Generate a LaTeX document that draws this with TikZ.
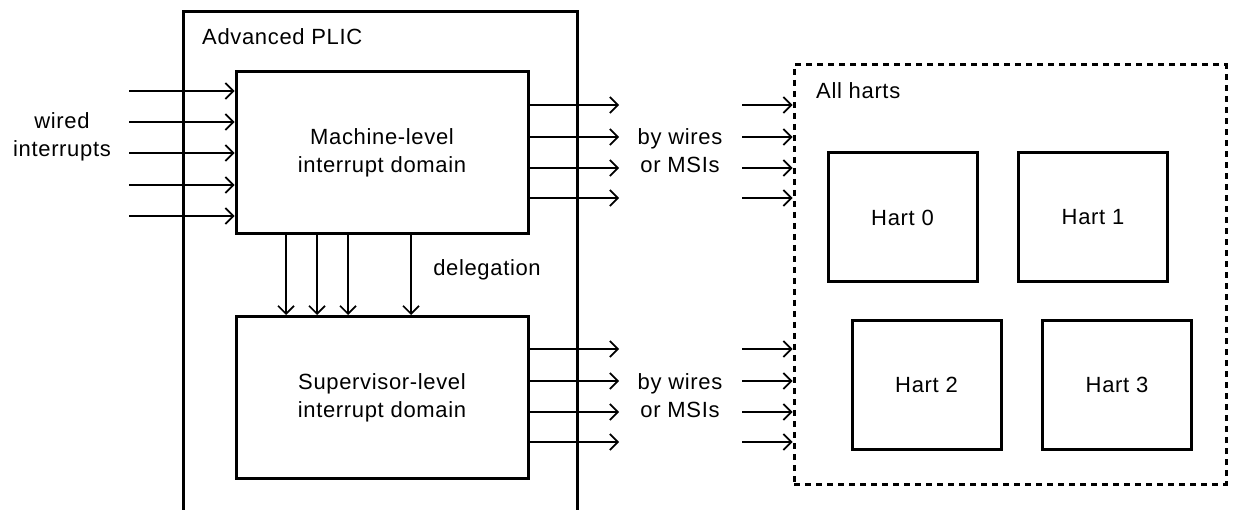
\documentclass[tikz,border=0pt]{standalone}
\usepackage{fontspec}
\setmainfont{Liberation Sans}[LetterSpace=3]
\usetikzlibrary{arrows.meta}
\begin{document}
\begin{tikzpicture}[x=1pt,y=-1pt]
\tikzstyle{every node}=[inner sep=0pt, align=center, font=\fontsize{22}{28}\selectfont]
\tikzstyle{domainbox}=[draw, line width=3pt, minimum width=292pt, minimum height=162pt]
\tikzstyle{hartbox}=[draw, line width=3pt, minimum width=149pt, minimum height=129pt]
\tikzstyle{wire}=[line width=1.7pt, -{Straight Barb[length=8pt,width=16pt]}]
\useasboundingbox (0,0) rectangle (1233,510);
% the APLIC, open at the bottom
\draw[line width=3pt] (183,520) -- (183,12) -- (577,12) -- (577,520);
\draw (202,37) node (aplic) [anchor=west] {Advanced PLIC};
\draw (382,153) node (mach) [domainbox] {Machine-level\\interrupt domain};
\draw (382,397.5) node (sup) [domainbox] {Supervisor-level\\interrupt domain};
\draw (62,137) node (wired) {wired\\interrupts};
\draw (680,151) node (mwires) {by wires\\or MSIs};
\draw (680,396) node (swires) {by wires\\or MSIs};
\draw (487,270) node (deleg) {delegation};
% the harts
\draw (1010,274.5) node (harts) [draw, line width=3pt, dash pattern=on 6pt off 5pt, minimum width=432pt, minimum height=419pt] {};
\draw (816,91) node (allharts) [anchor=west] {All harts};
\draw (902.5,217.5) node (h0) [hartbox] {Hart 0};
\draw (1093,217.5) node (h1) [hartbox] {Hart 1};
\draw (926.5,384.5) node (h2) [hartbox] {Hart 2};
\draw (1117,384.5) node (h3) [hartbox] {Hart 3};
% free ends
\coordinate (i1) at (129,91);
\coordinate (i2) at (129,122);
\coordinate (i3) at (129,153);
\coordinate (i4) at (129,185);
\coordinate (i5) at (129,216);
\coordinate (mo1) at (619,105);
\coordinate (mo2) at (619,137);
\coordinate (mo3) at (619,168);
\coordinate (mo4) at (619,198);
\coordinate (so1) at (619,349);
\coordinate (so2) at (619,381);
\coordinate (so3) at (619,412);
\coordinate (so4) at (619,442);
\coordinate (mh1) at (742,105);
\coordinate (mh2) at (742,137);
\coordinate (mh3) at (742,168);
\coordinate (mh4) at (742,198);
\coordinate (sh1) at (742,349);
\coordinate (sh2) at (742,381);
\coordinate (sh3) at (742,412);
\coordinate (sh4) at (742,442);
\draw[wire] (i1) -- (i1 -| mach.west);
\draw[wire] (i2) -- (i2 -| mach.west);
\draw[wire] (i3) -- (i3 -| mach.west);
\draw[wire] (i4) -- (i4 -| mach.west);
\draw[wire] (i5) -- (i5 -| mach.west);
\draw[wire] (mo1 -| mach.east) -- (mo1);
\draw[wire] (mo2 -| mach.east) -- (mo2);
\draw[wire] (mo3 -| mach.east) -- (mo3);
\draw[wire] (mo4 -| mach.east) -- (mo4);
\draw[wire] (so1 -| sup.east) -- (so1);
\draw[wire] (so2 -| sup.east) -- (so2);
\draw[wire] (so3 -| sup.east) -- (so3);
\draw[wire] (so4 -| sup.east) -- (so4);
\draw[wire] (mh1) -- (mh1 -| harts.west);
\draw[wire] (mh2) -- (mh2 -| harts.west);
\draw[wire] (mh3) -- (mh3 -| harts.west);
\draw[wire] (mh4) -- (mh4 -| harts.west);
\draw[wire] (sh1) -- (sh1 -| harts.west);
\draw[wire] (sh2) -- (sh2 -| harts.west);
\draw[wire] (sh3) -- (sh3 -| harts.west);
\draw[wire] (sh4) -- (sh4 -| harts.west);
% delegation
\draw[wire] (mach.south -| 286,0) -- (sup.north -| 286,0);
\draw[wire] (mach.south -| 317,0) -- (sup.north -| 317,0);
\draw[wire] (mach.south -| 348,0) -- (sup.north -| 348,0);
\draw[wire] (mach.south -| 411,0) -- (sup.north -| 411,0);
\end{tikzpicture}
\end{document}
